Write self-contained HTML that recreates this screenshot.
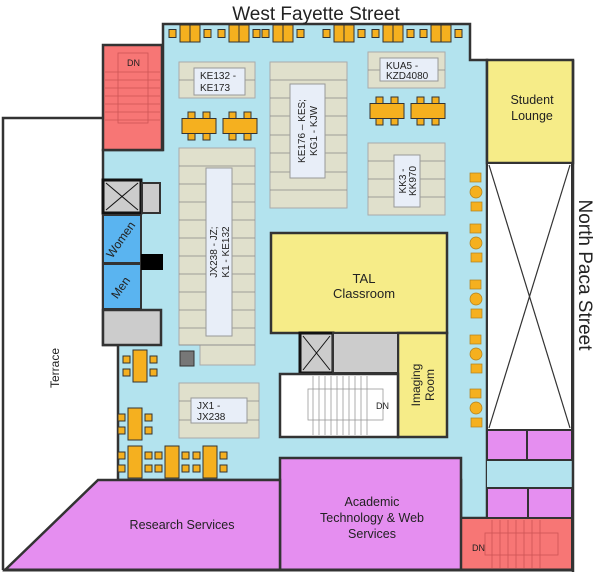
<!DOCTYPE html>
<html><head><meta charset="utf-8"><style>
html,body{margin:0;padding:0;background:#fff}
svg{display:block}
text{font-family:"Liberation Sans",sans-serif;fill:#222}
</style></head><body>
<svg width="600" height="572" viewBox="0 0 600 572" xmlns="http://www.w3.org/2000/svg">
<defs>
<g id="tg"><rect x="-21" y="-4" width="7" height="8" fill="#f5b01f" stroke="#333" stroke-width="1"/><rect x="-10" y="-8.5" width="10" height="17" fill="#f5b01f" stroke="#333"/><rect x="0" y="-8.5" width="10" height="17" fill="#f5b01f" stroke="#333"/><rect x="14" y="-4" width="7" height="8" fill="#f5b01f" stroke="#333"/></g>
<g id="ht"><rect x="-17" y="-7.5" width="34" height="15" fill="#f5b01f" stroke="#333"/><rect x="-11" y="-14" width="7" height="6.5" fill="#f5b01f" stroke="#333"/><rect x="4" y="-14" width="7" height="6.5" fill="#f5b01f" stroke="#333"/><rect x="-11" y="7.5" width="7" height="6.5" fill="#f5b01f" stroke="#333"/><rect x="4" y="7.5" width="7" height="6.5" fill="#f5b01f" stroke="#333"/></g>
<g id="vt"><rect x="-7" y="-16" width="14" height="32" fill="#f5b01f" stroke="#333"/><rect x="-17" y="-10" width="7" height="7" fill="#f5b01f" stroke="#333"/><rect x="-17" y="3" width="7" height="7" fill="#f5b01f" stroke="#333"/><rect x="10" y="-10" width="7" height="7" fill="#f5b01f" stroke="#333"/><rect x="10" y="3" width="7" height="7" fill="#f5b01f" stroke="#333"/></g>
<g id="cc"><rect x="-6" y="-19" width="11" height="9" fill="#f5b01f" stroke="#b08020" stroke-width="0.7"/><circle cx="0" cy="0" r="6" fill="#f5b01f" stroke="#b08020" stroke-width="0.7"/><rect x="-5" y="10" width="11" height="9" fill="#f5b01f" stroke="#b08020" stroke-width="0.7"/></g>
</defs>

<polyline points="103,118 3,118 3,570" fill="none" stroke="#333" stroke-width="2.5"/>

<polygon points="163,24 470,24 470,60 487,60 487,518 461,518 461,480 118,480 118,345 103,345 103,150 163,150" fill="#b3e3ee" stroke="#333" stroke-width="2.5"/>
<rect x="487" y="460" width="85" height="28" fill="#b3e3ee"/>

<rect x="103" y="45" width="59" height="105" fill="#f77675" stroke="#333" stroke-width="2.5"/>
<g stroke="#c55" stroke-width="0.8" fill="none"><rect x="118" y="53" width="30" height="70"/>
<line x1="105" y1="72" x2="160" y2="72"/><line x1="105" y1="80" x2="160" y2="80"/><line x1="105" y1="88" x2="160" y2="88"/><line x1="105" y1="96" x2="160" y2="96"/><line x1="105" y1="104" x2="160" y2="104"/><line x1="105" y1="112" x2="160" y2="112"/><line x1="105" y1="120" x2="160" y2="120"/></g>
<text x="127" y="66" font-size="9">DN</text>

<rect x="487" y="60" width="86" height="103" fill="#f6ec88" stroke="#333" stroke-width="2.5"/>
<text x="532" y="104" font-size="12.5" text-anchor="middle">Student</text>
<text x="532" y="120" font-size="12.5" text-anchor="middle">Lounge</text>
<rect x="487" y="163" width="85" height="267" fill="#fff" stroke="#333" stroke-width="2"/>
<line x1="489" y1="165" x2="570" y2="428" stroke="#333" stroke-width="1.2"/>
<line x1="570" y1="165" x2="489" y2="428" stroke="#333" stroke-width="1.2"/>
<line x1="573" y1="60" x2="573" y2="572" stroke="#333" stroke-width="2.5"/>

<rect x="487" y="430" width="40" height="30" fill="#e58ef0" stroke="#333" stroke-width="2"/>
<rect x="527" y="430" width="45" height="30" fill="#e58ef0" stroke="#333" stroke-width="2"/>
<rect x="487" y="488" width="41" height="30" fill="#e58ef0" stroke="#333" stroke-width="2"/>
<rect x="528" y="488" width="44" height="30" fill="#e58ef0" stroke="#333" stroke-width="2"/>
<rect x="461" y="518" width="111" height="52" fill="#f77675" stroke="#333" stroke-width="2"/>
<g stroke="#c55" stroke-width="0.8" fill="none"><rect x="485" y="533" width="73" height="22"/><line x1="492" y1="520" x2="492" y2="568"/><line x1="500" y1="520" x2="500" y2="568"/><line x1="508" y1="520" x2="508" y2="568"/><line x1="516" y1="520" x2="516" y2="568"/><line x1="524" y1="520" x2="524" y2="568"/><line x1="532" y1="520" x2="532" y2="568"/><line x1="540" y1="520" x2="540" y2="568"/></g>
<text x="472" y="551" font-size="9">DN</text>

<rect x="280" y="458" width="181" height="112" fill="#e58ef0" stroke="#333" stroke-width="2.5"/>
<text x="372" y="506" font-size="12.5" text-anchor="middle">Academic</text>
<text x="372" y="522" font-size="12.5" text-anchor="middle">Technology &amp; Web</text>
<text x="372" y="538" font-size="12.5" text-anchor="middle">Services</text>
<polygon points="98,480 280,480 280,570 5,570" fill="#e58ef0" stroke="#333" stroke-width="2.5"/>
<text x="182" y="529" font-size="12.5" text-anchor="middle">Research Services</text>
<line x1="3" y1="570" x2="573" y2="570" stroke="#333" stroke-width="3"/>

<rect x="271" y="233" width="176" height="100" fill="#f6ec88" stroke="#333" stroke-width="2.5"/>
<text x="364" y="283" font-size="13" text-anchor="middle">TAL</text>
<text x="364" y="298" font-size="13" text-anchor="middle">Classroom</text>
<rect x="398" y="333" width="49" height="104" fill="#f6ec88" stroke="#333" stroke-width="2.5"/>
<text transform="translate(420,385) rotate(-90)" font-size="12" text-anchor="middle">Imaging</text>
<text transform="translate(434,385) rotate(-90)" font-size="12" text-anchor="middle">Room</text>
<rect x="300" y="333" width="33" height="40" fill="#ccc" stroke="#111" stroke-width="3"/>
<line x1="303" y1="336" x2="330" y2="370" stroke="#111"/><line x1="330" y1="336" x2="303" y2="370" stroke="#111"/>
<rect x="333" y="333" width="65" height="40" fill="#ccc" stroke="#333" stroke-width="2"/>
<rect x="280" y="374" width="118" height="63" fill="#fff" stroke="#333" stroke-width="2.5"/>
<g stroke="#999" stroke-width="0.8" fill="none"><rect x="308" y="389" width="75" height="31"/>
<line x1="313" y1="376" x2="313" y2="435"/><line x1="319" y1="376" x2="319" y2="435"/><line x1="325" y1="376" x2="325" y2="435"/><line x1="331" y1="376" x2="331" y2="435"/><line x1="337" y1="376" x2="337" y2="435"/><line x1="343" y1="376" x2="343" y2="435"/><line x1="349" y1="376" x2="349" y2="435"/><line x1="355" y1="376" x2="355" y2="435"/><line x1="361" y1="376" x2="361" y2="435"/><line x1="367" y1="376" x2="367" y2="435"/></g>
<text x="376" y="409" font-size="9">DN</text>

<rect x="103" y="180" width="38" height="33" fill="#ccc" stroke="#111" stroke-width="3"/>
<line x1="106" y1="183" x2="138" y2="210" stroke="#111"/><line x1="138" y1="183" x2="106" y2="210" stroke="#111"/>
<rect x="142" y="183" width="18" height="30" fill="#ccc" stroke="#333" stroke-width="2"/>
<rect x="103" y="215" width="38" height="48" fill="#5ab4f0" stroke="#333" stroke-width="2"/>
<rect x="103" y="264" width="38" height="45" fill="#5ab4f0" stroke="#333" stroke-width="2"/>
<text transform="translate(124,242) rotate(-55)" font-size="12" text-anchor="middle">Women</text>
<text transform="translate(124,290) rotate(-55)" font-size="12" text-anchor="middle">Men</text>
<rect x="141" y="254" width="22" height="16" fill="#000"/>
<rect x="103" y="310" width="58" height="35" fill="#ccc" stroke="#333" stroke-width="2.5"/>

<g fill="#e0e0cc" stroke="#aaa" stroke-width="1">
<rect x="179" y="62" width="76" height="36"/>
<rect x="270" y="62" width="77" height="146"/>
<rect x="368" y="52" width="77" height="36"/>
<rect x="368" y="143" width="77" height="72"/>
<rect x="179" y="148" width="76" height="197"/>
<rect x="200" y="345" width="55" height="20"/>
<rect x="179" y="383" width="80" height="55"/>
</g>
<g stroke="#888" stroke-width="0.8">
<line x1="179" y1="80" x2="255" y2="80"/>
<line x1="368" y1="70" x2="445" y2="70"/>
<line x1="179" y1="401" x2="259" y2="401"/><line x1="179" y1="420" x2="259" y2="420"/>
<line x1="270" y1="80" x2="347" y2="80"/><line x1="270" y1="98" x2="347" y2="98"/><line x1="270" y1="116" x2="347" y2="116"/><line x1="270" y1="135" x2="347" y2="135"/><line x1="270" y1="153" x2="347" y2="153"/><line x1="270" y1="172" x2="347" y2="172"/><line x1="270" y1="190" x2="347" y2="190"/>
<line x1="368" y1="161" x2="445" y2="161"/><line x1="368" y1="179" x2="445" y2="179"/><line x1="368" y1="197" x2="445" y2="197"/>
<line x1="179" y1="166" x2="255" y2="166"/><line x1="179" y1="184" x2="255" y2="184"/><line x1="179" y1="202" x2="255" y2="202"/><line x1="179" y1="220" x2="255" y2="220"/><line x1="179" y1="238" x2="255" y2="238"/><line x1="179" y1="256" x2="255" y2="256"/><line x1="179" y1="274" x2="255" y2="274"/><line x1="179" y1="292" x2="255" y2="292"/><line x1="179" y1="310" x2="255" y2="310"/><line x1="179" y1="328" x2="255" y2="328"/><line x1="179" y1="345" x2="255" y2="345"/>
</g>
<g fill="#e8eef8" stroke="#999" stroke-width="1">
<rect x="194" y="68" width="51" height="27"/>
<rect x="290" y="84" width="35" height="94"/>
<rect x="380" y="58" width="58" height="23"/>
<rect x="394" y="155" width="26" height="52"/>
<rect x="206" y="168" width="26" height="168"/>
<rect x="191" y="398" width="56" height="25"/>
</g>
<text x="200" y="79" font-size="10">KE132 -</text><text x="200" y="91" font-size="10">KE173</text>
<text x="386" y="69" font-size="10">KUA5 -</text><text x="386" y="79" font-size="10">KZD4080</text>
<text x="197" y="409" font-size="10">JX1 -</text><text x="197" y="420" font-size="10">JX238</text>
<text transform="translate(305,131) rotate(-90)" font-size="10" text-anchor="middle">KE176 – KES;</text>
<text transform="translate(317,131) rotate(-90)" font-size="10" text-anchor="middle">KG1 - KJW</text>
<text transform="translate(406,181) rotate(-90)" font-size="10" text-anchor="middle">KK3 -</text>
<text transform="translate(416,181) rotate(-90)" font-size="10" text-anchor="middle">KK970</text>
<text transform="translate(217,252) rotate(-90)" font-size="10" text-anchor="middle">JX238 - JZ;</text>
<text transform="translate(229,252) rotate(-90)" font-size="10" text-anchor="middle">K1 - KE132</text>

<rect x="180" y="351" width="14" height="15" fill="#777" stroke="#333"/>

<use href="#tg" x="190" y="33.5"/><use href="#tg" x="239" y="33.5"/><use href="#tg" x="283" y="33.5"/>
<use href="#tg" x="344" y="33.5"/><use href="#tg" x="393" y="33.5"/><use href="#tg" x="441" y="33.5"/>
<use href="#ht" x="199" y="126"/><use href="#ht" x="240" y="126"/>
<use href="#ht" x="387" y="111"/><use href="#ht" x="428" y="111"/>
<use href="#vt" x="140" y="366"/><use href="#vt" x="135" y="424"/>
<use href="#vt" x="135" y="462"/><use href="#vt" x="172" y="462"/><use href="#vt" x="210" y="462"/>
<use href="#cc" x="476" y="192"/><use href="#cc" x="476" y="243"/><use href="#cc" x="476" y="299"/><use href="#cc" x="476" y="354"/><use href="#cc" x="476" y="408"/>

<text x="316" y="20" font-size="19" text-anchor="middle">West Fayette Street</text>
<text transform="translate(579,275) rotate(90)" font-size="19" text-anchor="middle">North Paca Street</text>
<text transform="translate(59,368) rotate(-90)" font-size="12" text-anchor="middle">Terrace</text>
</svg>
</body></html>
